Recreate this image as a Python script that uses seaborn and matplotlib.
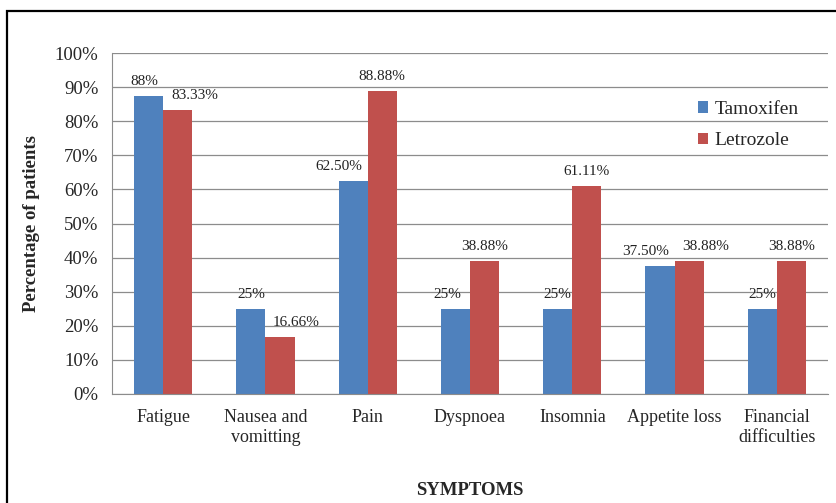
import pandas as pd
import seaborn as sns
import matplotlib.pyplot as plt
from matplotlib.patches import Rectangle
from matplotlib.ticker import PercentFormatter

symptoms = [
    "Fatigue",
    "Nausea and\nvomitting",
    "Pain",
    "Dyspnoea",
    "Insomnia",
    "Appetite loss",
    "Financial\ndifficulties",
]
tamoxifen = [87.5, 25, 62.5, 25, 25, 37.5, 25]
letrozole = [83.33, 16.66, 88.88, 38.88, 61.11, 38.88, 38.88]
tamoxifen_labels = ["88%", "25%", "62.50%", "25%", "25%", "37.50%", "25%"]
letrozole_labels = ["83.33%", "16.66%", "88.88%", "38.88%", "61.11%", "38.88%", "38.88%"]

# horizontal nudges (px) for the value labels, like the Excel original
tam_dx = [-4, 0, -14, -8, 0, -14, 0]
let_dx = [17, 16, 0, 0, 0, 16, 0]

df = pd.DataFrame(
    {
        "symptom": symptoms * 2,
        "value": tamoxifen + letrozole,
        "drug": ["Tamoxifen"] * len(symptoms) + ["Letrozole"] * len(symptoms),
    }
)

sns.set_style("white")
plt.rcParams["font.family"] = ["Liberation Serif", "DejaVu Serif"]

fig = plt.figure(figsize=(8.36, 5.03), dpi=100)
ax = fig.add_axes([112 / 836, 1 - 394 / 503, 716 / 836, 341 / 503])

sns.barplot(
    data=df,
    x="symptom",
    y="value",
    hue="drug",
    palette={"Tamoxifen": "#4F81BD", "Letrozole": "#C0504D"},
    saturation=1,
    width=0.57,
    linewidth=0,
    ax=ax,
    legend=True,
)

ax.set_ylim(0, 100)
ax.set_yticks(range(0, 101, 10))
ax.yaxis.set_major_formatter(PercentFormatter(decimals=0))
ax.grid(axis="y", color="#8c8c8c", linewidth=0.9)
ax.set_axisbelow(True)
for s in ["top", "right"]:
    ax.spines[s].set_visible(False)
ax.spines["left"].set_color("#8c8c8c")
ax.spines["bottom"].set_color("#8c8c8c")
ax.tick_params(axis="y", length=4.3, width=0.9, color="#8c8c8c", pad=5.5, labelsize=13.5)
ax.tick_params(axis="x", length=0, pad=11, labelsize=13)
ax.set_xlim(-0.5, len(symptoms) - 0.5)

ax.set_ylabel("Percentage of patients", fontsize=13.5, fontweight="bold")
ax.yaxis.set_label_coords(-0.10, 0.5)
ax.set_xlabel("SYMPTOMS", fontsize=13.5, fontweight="bold")
ax.xaxis.set_label_coords(0.5, -0.258)

for cont, labels, dxs in zip(
    ax.containers, [tamoxifen_labels, letrozole_labels], [tam_dx, let_dx]
):
    for bar, lab, dx in zip(cont, labels, dxs):
        ax.annotate(
            lab,
            (bar.get_x() + bar.get_width() / 2, bar.get_height()),
            xytext=(dx * 0.72, 10.5),
            textcoords="offset points",
            ha="center",
            va="center",
            fontsize=11,
            color="#222222",
        )

leg = ax.legend(
    loc="upper left",
    bbox_to_anchor=(690 / 836, 1 - 93 / 503),
    bbox_transform=fig.transFigure,
    frameon=False,
    fontsize=14,
    handlelength=0.55,
    handleheight=0.55,
    handletextpad=0.3,
    labelspacing=0.75,
    borderaxespad=0,
)

fig.add_artist(
    Rectangle(
        (7 / 836, -0.2),
        1.2,
        1.2 - 11 / 503,
        transform=fig.transFigure,
        fill=False,
        edgecolor="black",
        linewidth=1.6,
    )
)

fig.savefig("out.png", dpi=100)
